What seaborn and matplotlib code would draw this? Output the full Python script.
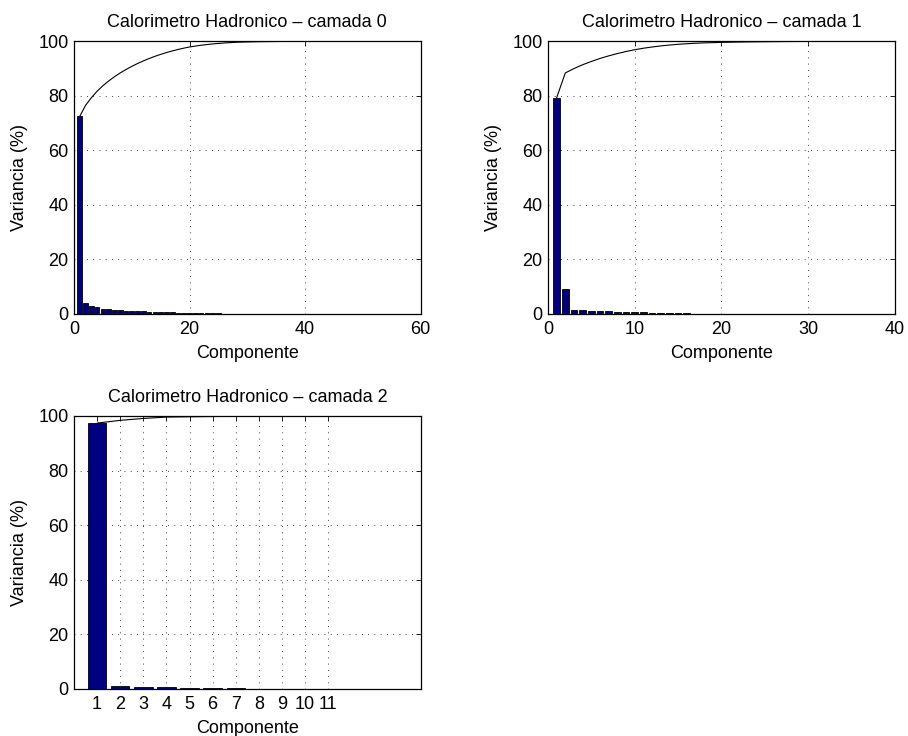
import numpy as np
import pandas as pd
import matplotlib
matplotlib.use("Agg")
import matplotlib.pyplot as plt
import seaborn as sns

sns.set_theme(style="white")
plt.rcParams['font.family'] = ['Liberation Sans', 'DejaVu Sans']
plt.rcParams['text.color'] = 'black'
plt.rcParams['axes.labelcolor'] = 'black'

# Explained variance (%) per principal component, one list per calorimeter layer
variancia_camada0 = [
    72.5, 4.0, 2.8, 2.4, 2.0, 1.75, 1.55, 1.4, 1.25, 1.15,
    1.05, 0.95, 0.88, 0.8, 0.72, 0.66, 0.6, 0.54, 0.48, 0.43,
    0.34, 0.3, 0.26, 0.22, 0.19, 0.16, 0.13, 0.11, 0.08, 0.06,
    0.05, 0.04, 0.03, 0.025, 0.02, 0.016, 0.013, 0.01, 0.008, 0.006,
    0.005, 0.004, 0.003, 0.002, 0.002, 0.001, 0.001, 0.001, 0.001, 0.001,
    0.001, 0.0005, 0.0005, 0.0005, 0.0005, 0.0005, 0.0005, 0.0005, 0.0005, 0.0005,
]
variancia_camada1 = [
    79.3, 9.1, 1.6, 1.4, 1.2, 1.1, 0.95, 0.85, 0.75, 0.65,
    0.55, 0.45, 0.4, 0.32, 0.27, 0.22, 0.17, 0.13, 0.1, 0.08,
    0.07, 0.06, 0.05, 0.04, 0.035, 0.03, 0.025, 0.02, 0.015, 0.012,
    0.01, 0.008, 0.006, 0.005, 0.004, 0.003, 0.002, 0.001, 0.001, 0.001,
]
variancia_camada2 = [97.4, 1.0, 0.7, 0.5, 0.12, 0.09, 0.07, 0.05, 0.04, 0.02, 0.01]

titulos = [
    "Calorimetro Hadronico \u2013 camada 0",
    "Calorimetro Hadronico \u2013 camada 1",
    "Calorimetro Hadronico \u2013 camada 2",
]
xlims = [(0, 60), (0, 40), (0, 15)]
xticks = [[0, 20, 40, 60], [0, 10, 20, 30, 40], list(range(1, 12))]
yticks = [0, 20, 40, 60, 80, 100]

BAR_COLOR = "#000080"
FS = 13

fig = plt.figure(figsize=(9.08, 7.36), dpi=100)
w, h = 0.3818, 0.3705
positions = [
    (0.0815, 0.5734, w, h),
    (0.6035, 0.5734, w, h),
    (0.0815, 0.0643, w, h),
]

for dados, titulo, xl, xt, pos in zip(
    [variancia_camada0, variancia_camada1, variancia_camada2],
    titulos, xlims, xticks, positions,
):
    ax = fig.add_axes(pos)
    comp = np.arange(1, len(dados) + 1)
    df = pd.DataFrame({"Componente": comp, "Variancia": dados,
                       "Acumulada": np.cumsum(dados)})

    sns.barplot(data=df, x="Componente", y="Variancia", native_scale=True,
                color=BAR_COLOR, saturation=1, width=0.8, edgecolor="black",
                linewidth=0.6, errorbar=None, ax=ax, zorder=2)
    sns.lineplot(data=df, x="Componente", y="Acumulada", color="black",
                 linewidth=0.8, ax=ax, zorder=3)

    ax.set_xlim(*xl)
    ax.set_ylim(0, 100)
    ax.set_xticks(xt)
    ax.set_xticklabels([str(t) for t in xt])
    ax.set_yticks(yticks)
    ax.grid(True, linestyle=(0, (1, 6.5)), color="black", linewidth=0.6)
    ax.set_axisbelow(True)
    for sp in ax.spines.values():
        sp.set_color("black")
        sp.set_linewidth(0.9)
    ax.tick_params(axis="both", direction="in", top=True, right=True,
                   length=3.5, width=0.6, colors="black", labelsize=FS)
    ax.tick_params(axis="x", pad=5)
    ax.tick_params(axis="y", pad=4)

    ax.set_title(titulo, fontsize=FS, pad=10, color="black")
    ax.set_xlabel("Componente", fontsize=FS, labelpad=5, color="black")
    ax.set_ylabel("Variancia (%)", fontsize=FS, labelpad=7, color="black")

fig.savefig("out.png", dpi=100, facecolor="white")
